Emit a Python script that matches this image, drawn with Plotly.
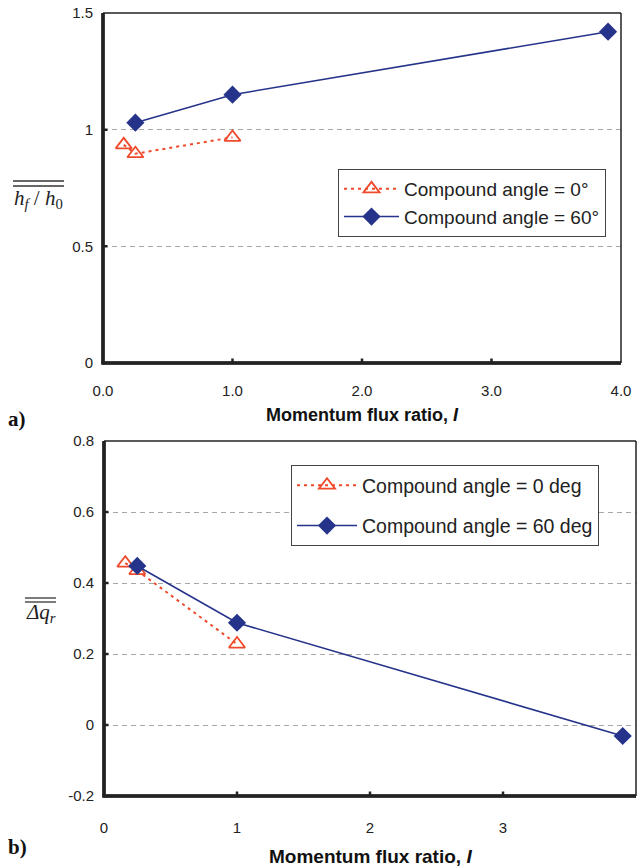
import plotly.graph_objects as go

W, H = 639, 867

# ---- data ----
x_a0 = [0.16, 0.25, 1.0]
y_a0 = [0.935, 0.897, 0.967]
x_a60 = [0.25, 1.0, 3.9]
y_a60 = [1.03, 1.15, 1.42]

x_b0 = [0.16, 0.25, 1.0]
y_b0 = [0.456, 0.435, 0.228]
x_b60 = [0.25, 1.0, 3.9]
y_b60 = [0.448, 0.288, -0.031]

name_a0 = "Compound angle = 0°"
name_a60 = "Compound angle = 60°"
name_b0 = "Compound angle = 0 deg"
name_b60 = "Compound angle = 60 deg"

xticks_a = [0, 1, 2, 3, 4]
yticks_a = [0, 0.5, 1, 1.5]
yticklabels_a = ["0", "0.5", "1", "1.5"]
xticks_b = [0, 1, 2, 3, 4]
yticks_b = [-0.2, 0, 0.2, 0.4, 0.6, 0.8]
yticklabels_b = ["-0.2", "0", "0.2", "0.4", "0.6", "0.8"]

RED = "#F04A2C"
NAVY = "#26338A"
AX = "#222222"
SANS = "Liberation Sans, Arial, sans-serif"
SERIF = "Liberation Serif, Times New Roman, serif"


def px(x):
    return x / W


def py(y):
    return 1 - y / H


# plot-area frames (pixels): left, right, top, bottom
FA = (103, 621, 13, 363)
FB = (104, 636, 441, 796)

fig = go.Figure()

fig.add_trace(go.Scatter(x=x_a0, y=y_a0, name=name_a0, mode="lines+markers",
                         line=dict(color=RED, width=2, dash="3px,4px"),
                         marker=dict(symbol="triangle-up-open", size=14, color=RED,
                                     line=dict(width=1.8, color=RED)),
                         xaxis="x", yaxis="y", legend="legend", legendgroup="a0"))
fig.add_trace(go.Scatter(x=x_a60, y=y_a60, name=name_a60, mode="lines+markers",
                         line=dict(color=NAVY, width=1.6),
                         marker=dict(symbol="diamond", size=14, color=NAVY),
                         xaxis="x", yaxis="y", legend="legend", legendgroup="a60"))
fig.add_trace(go.Scatter(x=x_b0, y=y_b0, name=name_b0, mode="lines+markers",
                         line=dict(color=RED, width=2, dash="3px,4px"),
                         marker=dict(symbol="triangle-up-open", size=14, color=RED,
                                     line=dict(width=1.8, color=RED)),
                         xaxis="x2", yaxis="y2", legend="legend2", legendgroup="b0"))
fig.add_trace(go.Scatter(x=x_b60, y=y_b60, name=name_b60, mode="lines+markers",
                         line=dict(color=NAVY, width=1.6),
                         marker=dict(symbol="diamond", size=14, color=NAVY),
                         xaxis="x2", yaxis="y2", legend="legend2", legendgroup="b60"))

axis_common = dict(showline=False, ticks="",
                   tickfont=dict(family=SANS, size=15, color=AX),
                   zeroline=False)

fig.update_layout(
    template="none",
    width=W, height=H,
    margin=dict(l=0, r=0, t=0, b=0, autoexpand=False),
    showlegend=True,
    xaxis=dict(domain=[px(FA[0]), px(FA[1])], range=[0, 4], tickvals=xticks_a,
               ticktext=[f"{v:.1f}" for v in xticks_a], showgrid=False,
               anchor="y", ticklabelstandoff=17, **axis_common),
    yaxis=dict(domain=[py(FA[3]), py(FA[2])], range=[0, 1.5], tickvals=yticks_a,
               ticktext=yticklabels_a, showgrid=True, gridcolor="#A8A8A8",
               griddash="5px,4px", gridwidth=1, anchor="x", ticklabelstandoff=9,
               **axis_common),
    xaxis2=dict(domain=[px(FB[0]), px(FB[1])], range=[0, 4], tickvals=xticks_b,
                ticktext=[str(v) for v in xticks_b], showgrid=False,
                anchor="y2", ticklabelstandoff=21, **axis_common),
    yaxis2=dict(domain=[py(FB[3]), py(FB[2])], range=[-0.2, 0.8], tickvals=yticks_b,
                ticktext=yticklabels_b, showgrid=True, gridcolor="#A8A8A8",
                griddash="5px,4px", gridwidth=1, anchor="x2", ticklabelstandoff=9,
                **axis_common),
    legend=dict(x=px(338), y=py(169), xanchor="left", yanchor="top",
                bordercolor="#444444", borderwidth=1, bgcolor="white",
                font=dict(family=SANS, size=19, color=AX),
                traceorder="grouped", tracegroupgap=0, itemwidth=55),
    legend2=dict(x=px(291), y=py(465), xanchor="left", yanchor="top",
                 bordercolor="#444444", borderwidth=1, bgcolor="white",
                 font=dict(family=SANS, size=19.5, color=AX),
                 traceorder="grouped", tracegroupgap=12, itemwidth=60),
)


def hline(x0, x1, y, w=1.5):
    fig.add_shape(type="line", xref="paper", yref="paper", x0=px(x0), x1=px(x1),
                  y0=py(y), y1=py(y), line=dict(color=AX, width=w))


def vline(x, y0, y1, w=1.5):
    fig.add_shape(type="line", xref="paper", yref="paper", x0=px(x), x1=px(x),
                  y0=py(y0), y1=py(y1), line=dict(color=AX, width=w))


def seg(x, y, ax, ay, w):
    # straight segment drawn as a head-less annotation arrow (info layer)
    fig.add_annotation(x=px(x), y=py(y), xref="paper", yref="paper",
                       ax=ax, ay=ay, axref="pixel", ayref="pixel", text="",
                       showarrow=True, arrowhead=0, arrowwidth=w, arrowcolor=AX,
                       standoff=0, startstandoff=0)


# frames: thin top/right, thick left/bottom
for (l, r, t, b) in (FA, FB):
    hline(l, r, t)
    vline(r, t, b)
    for off in (-1, 0, 1):
        vline(l + off, t, b + 1.5)
        hline(l - 1.5, r, b + off)
    seg(l, t, 0, b + 1.5 - t, 3)        # left axis line
    seg(r, b, -(r - l + 1.5), 0, 3)     # bottom axis line

# inside tick marks at the tick values
TL = 6
for xa, ya, (l, r, t, b), xt, yt in (("x", "y", FA, xticks_a, yticks_a),
                                     ("x2", "y2", FB, xticks_b, yticks_b)):
    for v in xt[1:-1]:
        fig.add_annotation(x=v, y=0, xref=xa, yref=f"{ya} domain", ax=0, ay=-TL,
                           text="", showarrow=True, arrowhead=0, arrowwidth=2.5,
                           arrowcolor=AX, standoff=0, startstandoff=0)
    for v in yt[1:-1]:
        fig.add_annotation(x=0, y=v, xref=f"{xa} domain", yref=ya, ax=TL, ay=0,
                           text="", showarrow=True, arrowhead=0, arrowwidth=2.5,
                           arrowcolor=AX, standoff=0, startstandoff=0)

# axis titles
fig.add_annotation(x=px(362), y=py(415), xref="paper", yref="paper",
                   xanchor="center", yanchor="middle",
                   text="<b>Momentum flux ratio, <i>I</i></b>", showarrow=False,
                   font=dict(family=SANS, size=18, color="#111111"))
fig.add_annotation(x=px(370), y=py(856), xref="paper", yref="paper",
                   xanchor="center", yanchor="middle",
                   text="<b>Momentum flux ratio, <i>I</i></b>", showarrow=False,
                   font=dict(family=SANS, size=19, color="#111111"))

# panel labels
fig.add_annotation(x=px(6), y=py(419), xref="paper", yref="paper",
                   xanchor="left", yanchor="middle",
                   text="<b>a)</b>", showarrow=False,
                   font=dict(family=SERIF, size=21, color="#111111"))
fig.add_annotation(x=px(6), y=py(847), xref="paper", yref="paper",
                   xanchor="left", yanchor="middle",
                   text="<b>b)</b>", showarrow=False,
                   font=dict(family=SERIF, size=21, color="#111111"))

# y-axis titles with double overline
fig.add_annotation(x=px(38.5), y=py(199), xref="paper", yref="paper",
                   xanchor="center", yanchor="middle",
                   text="<i>h</i><sub><i>f</i></sub> / <i>h</i><sub>0</sub>",
                   showarrow=False, font=dict(family=SERIF, size=21, color=AX))
for yy in (181, 186):
    fig.add_shape(type="line", xref="paper", yref="paper", x0=px(13), x1=px(64),
                  y0=py(yy), y1=py(yy), line=dict(color="#333333", width=1.3))

fig.add_annotation(x=px(40.5), y=py(613), xref="paper", yref="paper",
                   xanchor="center", yanchor="middle",
                   text="<i>Δq</i><sub><i>r</i></sub>",
                   showarrow=False, font=dict(family=SERIF, size=21, color=AX))
for yy in (598, 602):
    fig.add_shape(type="line", xref="paper", yref="paper", x0=px(25), x1=px(56),
                  y0=py(yy), y1=py(yy), line=dict(color="#333333", width=1.3))

fig.write_html("out.html", config={"staticPlot": True})
